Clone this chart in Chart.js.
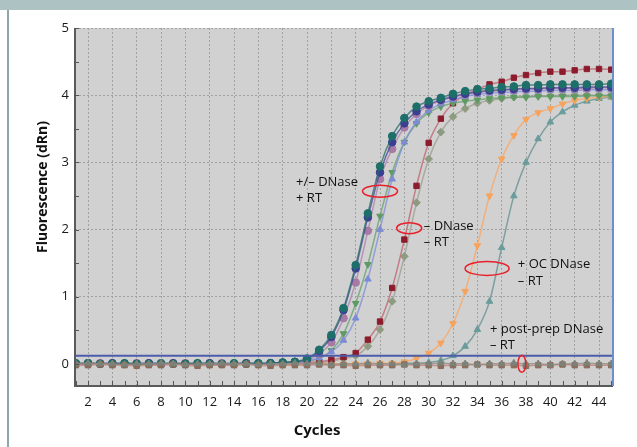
<!DOCTYPE html>
<html>
<head>
<meta charset="utf-8">
<script src="https://cdn.jsdelivr.net/npm/chart.js@4.4.1/dist/chart.umd.min.js"></script>
<style>
  html, body { margin: 0; padding: 0; background: #fff; }
</style>
</head>
<body>
<canvas id="qpcrChart" width="637" height="447"></canvas>
<script>
// ===================== Data =====================
const cycles = [1, 2, 3, 4, 5, 6, 7, 8, 9, 10, 11, 12, 13, 14, 15,
  16, 17, 18, 19, 20, 21, 22, 23, 24, 25, 26, 27, 28, 29, 30,
  31, 32, 33, 34, 35, 36, 37, 38, 39, 40, 41, 42, 43, 44, 45];

const xTickLabels = ['2', '4', '6', '8', '10', '12', '14', '16', '18', '20', '22',
  '24', '26', '28', '30', '32', '34', '36', '38', '40', '42', '44'];
const yTickLabels = ['0', '1', '2', '3', '4', '5'];

// +/- DNase, +RT group
const tealRun = [0.01, 0.01, 0.0, 0.0, 0.01, 0.0, 0.0, 0.01, 0.0, 0.0, 0.01, 0.0, 0.0, 0.01, 0.0,
  0.01, 0.01, 0.02, 0.03, 0.08, 0.21, 0.43, 0.83, 1.47, 2.24, 2.94, 3.39, 3.66, 3.83, 3.91,
  3.96, 4.02, 4.06, 4.09, 4.10, 4.12, 4.13, 4.15, 4.15, 4.16, 4.16, 4.16, 4.16, 4.16, 4.17];
const blueRun = [0.0, 0.01, 0.0, 0.01, 0.0, 0.0, 0.01, 0.0, 0.01, 0.0, 0.0, 0.01, 0.0, 0.0, 0.01,
  0.0, 0.01, 0.02, 0.03, 0.07, 0.19, 0.40, 0.80, 1.42, 2.18, 2.85, 3.30, 3.58, 3.76, 3.86,
  3.93, 3.98, 4.02, 4.05, 4.07, 4.08, 4.09, 4.10, 4.10, 4.11, 4.11, 4.11, 4.12, 4.12, 4.12];
const mauveRun = [0.0, 0.0, 0.01, 0.0, 0.0, 0.01, 0.0, 0.0, 0.0, 0.01, 0.0, 0.0, 0.01, 0.0, 0.0,
  0.0, 0.01, 0.01, 0.02, 0.05, 0.15, 0.32, 0.68, 1.21, 1.98, 2.75, 3.20, 3.52, 3.72, 3.84,
  3.92, 3.97, 4.01, 4.04, 4.06, 4.07, 4.08, 4.09, 4.09, 4.10, 4.10, 4.10, 4.10, 4.11, 4.11];
const lavenderRun = [0.0, 0.0, 0.0, 0.01, 0.0, 0.0, 0.0, 0.01, 0.0, 0.0, 0.0, 0.01, 0.0, 0.0, 0.0,
  0.01, 0.0, 0.01, 0.02, 0.04, 0.09, 0.18, 0.35, 0.68, 1.26, 2.00, 2.75, 3.30, 3.60, 3.77,
  3.87, 3.93, 3.98, 4.01, 4.03, 4.04, 4.05, 4.06, 4.06, 4.07, 4.07, 4.07, 4.08, 4.08, 4.08];
const greenRun = [0.0, 0.0, 0.0, 0.0, 0.01, 0.0, 0.0, 0.0, 0.0, 0.01, 0.0, 0.0, 0.0, 0.0, 0.01,
  0.0, 0.0, 0.01, 0.02, 0.04, 0.08, 0.20, 0.45, 0.90, 1.48, 2.20, 2.85, 3.30, 3.58, 3.74,
  3.83, 3.88, 3.91, 3.93, 3.95, 3.96, 3.97, 3.97, 3.98, 3.98, 3.98, 3.98, 3.99, 3.99, 3.99];

// -DNase, -RT group
const redRun = [0.0, 0.0, 0.01, 0.0, 0.0, 0.0, 0.01, 0.0, 0.0, 0.0, 0.01, 0.0, 0.0, 0.0, 0.01,
  0.0, 0.0, 0.0, 0.01, 0.02, 0.03, 0.06, 0.10, 0.16, 0.36, 0.63, 1.13, 1.85, 2.65, 3.29,
  3.65, 3.88, 4.00, 4.09, 4.16, 4.20, 4.26, 4.30, 4.33, 4.35, 4.35, 4.37, 4.39, 4.39, 4.38];
const sageRun = [0.0, 0.0, 0.0, 0.0, 0.0, 0.01, 0.0, 0.0, 0.0, 0.0, 0.0, 0.01, 0.0, 0.0, 0.0,
  0.0, 0.0, 0.0, 0.0, 0.01, 0.02, 0.04, 0.08, 0.12, 0.26, 0.51, 0.93, 1.60, 2.40, 3.05,
  3.45, 3.68, 3.80, 3.88, 3.92, 3.95, 3.97, 3.98, 3.99, 3.99, 4.00, 4.00, 4.00, 4.00, 4.00];

// +OC DNase, -RT
const orangeRun = [0.0, 0.0, 0.0, 0.0, 0.0, 0.0, 0.0, 0.0, 0.0, 0.0, 0.0, 0.0, 0.0, 0.0, 0.0,
  0.0, 0.0, 0.0, 0.0, 0.0, 0.0, 0.0, 0.0, 0.0, 0.0, 0.01, 0.01, 0.03, 0.08, 0.16,
  0.31, 0.60, 1.08, 1.76, 2.50, 3.05, 3.40, 3.64, 3.74, 3.80, 3.87, 3.92, 3.95, 3.97, 3.98];
// late riser
const slateRun = [0.0, 0.0, 0.0, 0.0, 0.0, 0.0, 0.0, 0.0, 0.0, 0.0, 0.0, 0.0, 0.0, 0.0, 0.0,
  0.0, 0.0, 0.0, 0.0, 0.0, 0.0, 0.0, 0.0, 0.0, 0.0, 0.0, 0.0, 0.01, 0.01, 0.02,
  0.05, 0.12, 0.26, 0.51, 0.93, 1.73, 2.50, 3.00, 3.35, 3.60, 3.75, 3.85, 3.91, 3.95, 3.97];

// + post-prep DNase, -RT (flat)
const flatBrown = [-0.02, -0.02, -0.01, -0.02, -0.02, -0.03, -0.02, -0.02, -0.01, -0.02, -0.03, -0.02, -0.02, -0.02, -0.01,
  -0.02, -0.03, -0.02, -0.02, -0.02, -0.01, -0.02, -0.02, -0.03, -0.02, -0.02, -0.02, -0.01, -0.02, -0.02,
  -0.03, -0.02, -0.02, -0.01, -0.02, -0.02, -0.02, -0.03, -0.02, -0.02, -0.01, -0.02, -0.02, -0.02, -0.02];
const flatGray = [0.0, 0.01, 0.0, 0.0, -0.01, 0.0, 0.0, 0.01, 0.0, -0.01, 0.0, 0.0, 0.01, 0.0, 0.0,
  -0.01, 0.0, 0.0, 0.01, 0.0, 0.0, -0.01, 0.0, 0.0, 0.01, 0.0, 0.0, -0.01, 0.0, 0.0,
  0.01, 0.0, 0.0, -0.01, 0.0, 0.0, 0.01, 0.0, 0.0, -0.01, 0.0, 0.0, 0.01, 0.0, 0.0];

const threshold = 0.12;

// text labels and red rings, placed in cycle / dRn units
const notes = [
  { lines: ['+/\u2013 DNase', '+ RT'], x: 19.1, y: 2.71 },
  { lines: ['\u2013 DNase', '\u2013 RT'], x: 29.6, y: 2.05 },
  { lines: ['+ OC DNase', '\u2013 RT'], x: 37.33, y: 1.48 },
  { lines: ['+ post-prep DNase', '\u2013 RT'], x: 35.03, y: 0.52 }
];
const rings = [
  { x: 26.0, y: 2.57, rx: 17.5, ry: 6 },
  { x: 28.4, y: 2.02, rx: 12.5, ry: 5.5 },
  { x: 34.8, y: 1.42, rx: 22, ry: 7 },
  { x: 37.66, y: 0.0, rx: 4, ry: 8.5 }
];

// ===================== Helpers =====================
function pts(values) {
  return cycles.map((c, i) => ({ x: c, y: values[i] }));
}

function run(values, color, line, style, rotation) {
  return {
    data: pts(values),
    borderColor: line,
    borderWidth: 1.5,
    backgroundColor: color,
    pointBorderColor: color,
    pointBackgroundColor: color,
    pointStyle: style,
    rotation: rotation || 0,
    pointRadius: 3.8,
    pointBorderWidth: 1,
    cubicInterpolationMode: 'monotone'
  };
}

const FONT = '"Open Sans", "Noto Sans", sans-serif';

// background, frame, axis titles and notes
const plotDecor = {
  id: 'plotDecor',
  beforeDraw(chart) {
    const { ctx, chartArea: a } = chart;
    ctx.save();
    ctx.fillStyle = '#ffffff';
    ctx.fillRect(0, 0, chart.width, chart.height);
    ctx.fillStyle = '#adc2c2';
    ctx.fillRect(0, 0, chart.width, 10);
    ctx.fillStyle = '#8ea8a8';
    ctx.fillRect(7, 10, 2, chart.height - 10);
    ctx.fillStyle = '#d1d1d1';
    ctx.fillRect(a.left, a.top, a.right - a.left, a.bottom - a.top);
    ctx.restore();
  },
  afterDraw(chart) {
    const { ctx, chartArea: a, scales } = chart;
    const xs = scales.x, ys = scales.y;
    ctx.save();

    // axis lines
    ctx.strokeStyle = '#5a5a5a';
    ctx.lineWidth = 2;
    ctx.beginPath();
    ctx.moveTo(a.left, a.top);
    ctx.lineTo(a.left, a.bottom);
    ctx.lineTo(a.right, a.bottom);
    ctx.stroke();

    // right edge
    ctx.strokeStyle = '#6f8fc6';
    ctx.beginPath();
    ctx.moveTo(a.right, a.top);
    ctx.lineTo(a.right, a.bottom);
    ctx.stroke();

    // small inner tick marks
    ctx.strokeStyle = '#555';
    ctx.lineWidth = 1;
    ctx.beginPath();
    cycles.forEach(c => {
      const px = Math.round(xs.getPixelForValue(c)) + 0.5;
      ctx.moveTo(px, a.bottom - 5);
      ctx.lineTo(px, a.bottom);
    });
    for (let v = 0; v <= 5; v += 0.5) {
      const py = Math.round(ys.getPixelForValue(v)) + 0.5;
      ctx.moveTo(a.left, py);
      ctx.lineTo(a.left + 4, py);
    }
    ctx.stroke();

    // axis titles
    ctx.fillStyle = '#111';
    ctx.font = 'bold 14px ' + FONT;
    ctx.textAlign = 'center';
    ctx.textBaseline = 'middle';
    ctx.save();
    ctx.translate(43, 187);
    ctx.rotate(-Math.PI / 2);
    ctx.fillText('Fluorescence (dRn)', 0, 0);
    ctx.restore();
    ctx.font = 'bold 15px ' + FONT;
    ctx.fillText('Cycles', 317, 431);

    // notes
    ctx.font = '13px ' + FONT;
    ctx.textAlign = 'left';
    notes.forEach(n => {
      const px = xs.getPixelForValue(n.x);
      const py = ys.getPixelForValue(n.y);
      n.lines.forEach((t, i) => ctx.fillText(t, px, py + i * 16.5));
    });

    ctx.strokeStyle = '#e8202a';
    ctx.lineWidth = 1.5;
    rings.forEach(r => {
      ctx.beginPath();
      ctx.ellipse(xs.getPixelForValue(r.x), ys.getPixelForValue(r.y), r.rx, r.ry, 0, 0, Math.PI * 2);
      ctx.stroke();
    });
    ctx.restore();
  }
};

// ===================== Chart =====================
const ctx = document.getElementById('qpcrChart').getContext('2d');

new Chart(ctx, {
  type: 'line',
  data: {
    datasets: [
      run(flatGray, '#7d8279', 'rgba(150,140,130,0.8)', 'triangle'),
      run(flatBrown, '#8a6b58', 'rgba(200,140,130,0.9)', 'rect'),
      {
        data: [{ x: 0.93, y: threshold }, { x: 45.15, y: threshold }],
        borderColor: '#4c5cab',
        borderWidth: 2,
        pointRadius: 0
      },
      run(tealRun, '#1e6e6a', 'rgba(40,110,106,0.75)', 'circle'),
      run(blueRun, '#3b3f91', 'rgba(70,72,150,0.75)', 'circle'),
      run(mauveRun, '#a77aa6', 'rgba(170,130,170,0.75)', 'circle'),
      run(lavenderRun, '#7d8bd4', 'rgba(130,145,215,0.8)', 'triangle'),
      run(greenRun, '#5f9a62', 'rgba(100,160,110,0.75)', 'triangle', 180),
      run(redRun, '#8c1c2c', 'rgba(190,110,120,0.85)', 'rect'),
      run(sageRun, '#8d9b80', 'rgba(160,160,150,0.8)', 'rectRot'),
      run(orangeRun, '#f6a35c', 'rgba(246,170,110,0.85)', 'triangle', 180),
      run(slateRun, '#6a9c9c', 'rgba(110,150,150,0.85)', 'triangle')
    ]
  },
  options: {
    responsive: false,
    animation: false,
    layout: { padding: { top: 28, right: 24, left: 0, bottom: 0 } },
    plugins: {
      legend: { display: false },
      tooltip: { enabled: false }
    },
    scales: {
      x: {
        type: 'linear',
        min: 0.93,
        max: 45.15,
        afterFit: s => { s.height = 61; },
        afterBuildTicks: s => { s.ticks = cycles.map(c => ({ value: c })); },
        border: { display: false, dash: [2, 2] },
        grid: {
          drawTicks: false,
          color: c => (c.tick && c.tick.value % 2 === 0 ? '#a2a2a2' : 'rgba(0,0,0,0)'),
          lineWidth: 1
        },
        ticks: {
          autoSkip: false,
          maxRotation: 0,
          padding: 8,
          color: '#1a1a1a',
          font: { family: FONT, size: 13 },
          callback: v => (v % 2 === 0 ? xTickLabels[v / 2 - 1] : '')
        }
      },
      y: {
        min: -0.33,
        max: 5,
        afterFit: s => { s.width = 75; },
        afterBuildTicks: s => { s.ticks = yTickLabels.map(t => ({ value: Number(t) })); },
        border: { display: false, dash: [2, 2] },
        grid: {
          drawTicks: false,
          color: c => (c.tick && c.tick.value > 0 ? '#a2a2a2' : 'rgba(0,0,0,0)'),
          lineWidth: 1
        },
        ticks: {
          padding: 6,
          color: '#1a1a1a',
          font: { family: FONT, size: 13 },
          callback: v => yTickLabels[v]
        }
      }
    }
  },
  plugins: [plotDecor]
});
</script>
</body>
</html>
